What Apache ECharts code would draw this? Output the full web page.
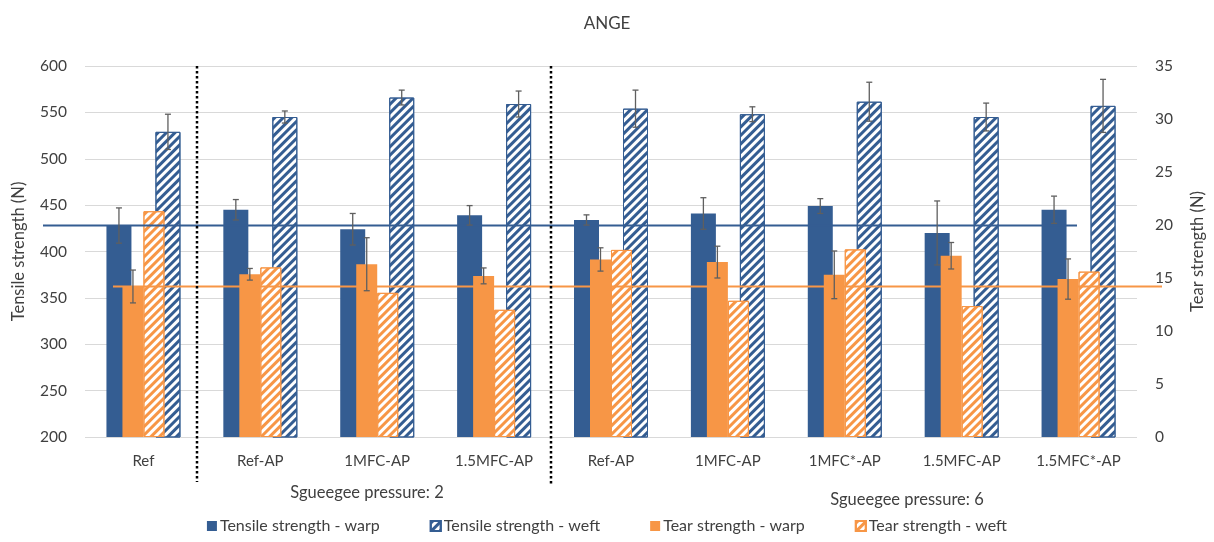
<!DOCTYPE html>
<html>
<head>
<meta charset="utf-8">
<script src="https://cdn.jsdelivr.net/npm/echarts@6/dist/echarts.min.js"></script>
<style>
html, body { margin: 0; padding: 0; background: #ffffff; }
#chart { width: 1214px; height: 542px; }
</style>
</head>
<body>
<div id="chart"></div>
<script>
// Sample groups (first four printed at squeegee pressure 2, the rest at 6)
const categories = ['Ref', 'Ref-AP', '1MFC-AP', '1.5MFC-AP', 'Ref-AP', '1MFC-AP', '1MFC*-AP', '1.5MFC-AP', '1.5MFC*-AP'];

// Tensile strength (N), left axis
const tensileWarp    = [428, 445, 424, 439, 434, 441, 449, 420, 445];
const tensileWarpErr = [19, 11, 17, 10.5, 5.5, 17, 8, 34.5, 14.7];
const tensileWeft    = [529, 545, 566, 559, 554, 548, 561.5, 545, 557];
const tensileWeftErr = [19, 6.5, 8, 14, 20, 8, 21, 15, 28.6];

// Tear strength (N), right axis
const tearWarp    = [14.2, 15.35, 16.3, 15.2, 16.75, 16.5, 15.3, 17.1, 14.9];
const tearWarpErr = [1.55, 0.55, 2.5, 0.75, 1.1, 1.5, 2.25, 1.25, 1.9];
const tearWeft    = [21.3, 16.0, 13.6, 12.0, 17.65, 12.85, 17.7, 12.35, 15.6];

// Reference levels of the untreated sample
const tensileRef = 428;
const tearRef = 14.2;

// Axis ranges
const tensileAxis = { min: 200, max: 600, interval: 50 };
const tearAxis = { min: 0, max: 35, interval: 5 };

const seriesNames = ['Tensile strength - warp', 'Tensile strength - weft', 'Tear strength - warp', 'Tear strength - weft'];
const groupLabels = ['Sgueegee pressure: 2', 'Sgueegee pressure: 6'];

const BLUE = '#345d92';
const ORANGE = '#f79646';
const ERR = '#5f5f5f';
const TEXT = '#404040';
const FONT = 'Lato, "Open Sans", sans-serif';

const GRID = { left: 85, right: 77, top: 66, bottom: 105 };

function hatch(color) {
  return {
    symbol: 'rect',
    symbolSize: 1,
    color: color,
    dashArrayX: [1, 0],
    dashArrayY: [2.6, 2.8],
    rotation: -Math.PI / 4
  };
}

// Error bar (I-beam) drawn at a fixed offset from the category centre
function errorSeries(values, errs, offset, xAxisIndex, yAxisIndex) {
  return {
    type: 'custom',
    xAxisIndex: xAxisIndex,
    yAxisIndex: yAxisIndex,
    z: 6,
    silent: true,
    data: values.map((v, i) => [i, v, errs[i]]),
    renderItem: function (params, api) {
      const i = api.value(0), v = api.value(1), e = api.value(2);
      const x = api.coord([i, v])[0] + offset;
      const yTop = api.coord([i, v + e])[1];
      const yBot = api.coord([i, v - e])[1];
      const cap = 3;
      const style = { stroke: ERR, lineWidth: 1.3 };
      return {
        type: 'group',
        children: [
          { type: 'line', shape: { x1: x, y1: yTop, x2: x, y2: yBot }, style: style },
          { type: 'line', shape: { x1: x - cap, y1: yTop, x2: x + cap, y2: yTop }, style: style },
          { type: 'line', shape: { x1: x - cap, y1: yBot, x2: x + cap, y2: yBot }, style: style }
        ]
      };
    }
  };
}

// Horizontal reference level spanning a given pixel extent
function refLine(value, yAxisIndex, color, xStart, xEnd) {
  return {
    type: 'custom',
    xAxisIndex: 0,
    yAxisIndex: yAxisIndex,
    z: 5,
    silent: true,
    data: [[0, value]],
    renderItem: function (params, api) {
      const y = api.coord([0, api.value(1)])[1];
      return {
        type: 'line',
        shape: { x1: xStart, y1: y, x2: xEnd, y2: y },
        style: { stroke: color, lineWidth: 2 }
      };
    }
  };
}

const chart = echarts.init(document.getElementById('chart'), null, { renderer: 'canvas' });

const option = {
  backgroundColor: '#ffffff',
  animation: false,
  title: {
    text: 'ANGE',
    left: 'center',
    top: 10,
    textStyle: { fontFamily: FONT, fontSize: 17, fontWeight: 'normal', color: TEXT }
  },
  legend: {
    data: seriesNames,
    bottom: 3,
    left: 'center',
    itemWidth: 10,
    itemHeight: 10,
    itemGap: 50,
    icon: 'rect',
    textStyle: { fontFamily: FONT, fontSize: 16, color: TEXT, padding: [0, 0, 0, -2] }
  },
  grid: {
    left: GRID.left, right: GRID.right, top: GRID.top, bottom: GRID.bottom,
    containLabel: false, outerBoundsMode: 'none'
  },
  xAxis: [
    {
      type: 'category',
      data: categories,
      axisLine: { show: false },
      axisTick: { show: false },
      axisLabel: { margin: 17, fontFamily: FONT, fontSize: 15, color: TEXT, interval: 0 },
      splitLine: { show: false }
    },
    {
      type: 'category',
      data: categories,
      show: false
    }
  ],
  yAxis: [
    {
      type: 'value',
      min: tensileAxis.min, max: tensileAxis.max, interval: tensileAxis.interval,
      name: 'Tensile strength (N)',
      nameLocation: 'middle',
      nameRotate: 90,
      nameGap: 58,
      nameTextStyle: { fontFamily: FONT, fontSize: 16.5, color: TEXT },
      axisLine: { show: false },
      axisTick: { show: false },
      axisLabel: { margin: 18, fontFamily: FONT, fontSize: 15.5, color: TEXT },
      splitLine: { show: true, lineStyle: { color: '#d9d9d9', width: 1.2 } }
    },
    {
      type: 'value',
      position: 'right',
      min: tearAxis.min, max: tearAxis.max, interval: tearAxis.interval,
      name: 'Tear strength (N)',
      nameLocation: 'middle',
      nameRotate: 90,
      nameGap: 52,
      nameTextStyle: { fontFamily: FONT, fontSize: 16.5, color: TEXT },
      axisLine: { show: false },
      axisTick: { show: false },
      axisLabel: { margin: 18, fontFamily: FONT, fontSize: 15.5, color: TEXT },
      splitLine: { show: false }
    }
  ],
  series: [
    {
      name: seriesNames[0],
      type: 'bar',
      xAxisIndex: 0, yAxisIndex: 0,
      barWidth: 25, barGap: '96%',
      z: 2,
      itemStyle: { color: BLUE },
      data: tensileWarp
    },
    {
      name: seriesNames[1],
      type: 'bar',
      xAxisIndex: 0, yAxisIndex: 0,
      barWidth: 25, barGap: '96%',
      z: 2,
      itemStyle: { color: '#ffffff', borderColor: BLUE, borderWidth: 1, decal: hatch(BLUE) },
      data: tensileWeft
    },
    {
      name: seriesNames[2],
      type: 'bar',
      xAxisIndex: 1, yAxisIndex: 1,
      barWidth: 21, barGap: '0%',
      z: 3,
      itemStyle: { color: ORANGE },
      data: tearWarp
    },
    {
      name: seriesNames[3],
      type: 'bar',
      xAxisIndex: 1, yAxisIndex: 1,
      barWidth: 21, barGap: '0%',
      z: 3,
      itemStyle: { color: '#ffffff', borderColor: ORANGE, borderWidth: 1, decal: hatch(ORANGE) },
      data: tearWeft
    },
    refLine(tensileRef, 0, BLUE, 43, 1077),
    refLine(tearRef, 1, ORANGE, 113, 1162),
    errorSeries(tensileWarp, tensileWarpErr, -24.5, 0, 0),
    errorSeries(tensileWeft, tensileWeftErr, 24.5, 0, 0),
    errorSeries(tearWarp, tearWarpErr, -10.5, 1, 1)
  ],
  graphic: [
    { type: 'line', z: 10, shape: { x1: 197, y1: 66, x2: 197, y2: 482 },
      style: { stroke: '#000000', lineWidth: 2.5, lineDash: [2.5, 2.5] } },
    { type: 'line', z: 10, shape: { x1: 551, y1: 66, x2: 551, y2: 484 },
      style: { stroke: '#000000', lineWidth: 2.5, lineDash: [2.5, 2.5] } },
    { type: 'text', x: 367, y: 493, z: 10,
      style: { text: groupLabels[0], fontFamily: FONT, fontSize: 16.5, fill: TEXT, align: 'center', verticalAlign: 'middle' } },
    { type: 'text', x: 907, y: 500, z: 10,
      style: { text: groupLabels[1], fontFamily: FONT, fontSize: 16.5, fill: TEXT, align: 'center', verticalAlign: 'middle' } }
  ]
};

chart.setOption(option);
</script>
</body>
</html>
